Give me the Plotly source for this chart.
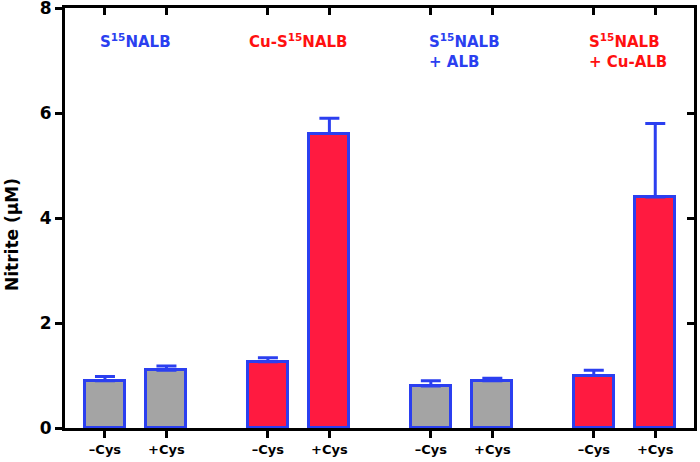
import plotly.graph_objects as go

# ---- data ----
x_pos = [0, 1, 2.65, 3.65, 5.3, 6.3, 7.95, 8.95]
tick_labels = ["\u2013Cys", "+Cys", "\u2013Cys", "+Cys", "\u2013Cys", "+Cys", "\u2013Cys", "+Cys"]
nitrite = [0.90, 1.10, 1.26, 5.61, 0.80, 0.90, 1.00, 4.40]
err_up = [0.08, 0.08, 0.08, 0.29, 0.10, 0.05, 0.10, 1.40]
bar_kind = ["grey", "grey", "red", "red", "grey", "grey", "red", "red"]
y_ticks = [0, 2, 4, 6, 8]
y_title = "Nitrite (\u03bcM)"
group_labels = ["S<sup>15</sup>NALB", "Cu-S<sup>15</sup>NALB",
                "S<sup>15</sup>NALB<br>+ ALB", "S<sup>15</sup>NALB<br>+ Cu-ALB"]
group_colors = ["#2b3ff0", "#ff1010", "#2b3ff0", "#ff1010"]

FILL = {"grey": "#a4a4a4", "red": "#ff1a40"}
BLUE = "#2b3ff0"
FONT = "DejaVu Sans"

fig = go.Figure()
fig.add_trace(go.Bar(
    x=x_pos, y=nitrite, width=0.65,
    marker=dict(color=[FILL[k] for k in bar_kind], line=dict(color=BLUE, width=3)),
    error_y=dict(type="data", array=err_up, arrayminus=[0]*len(err_up), symmetric=False,
                 color=BLUE, thickness=3, width=10),
    showlegend=False, hoverinfo="skip",
))
# invisible trace on the mirror axes
fig.add_trace(go.Scatter(x=[x_pos[0]], y=[0], xaxis="x2", yaxis="y2",
                         mode="markers", marker=dict(opacity=0), showlegend=False,
                         hoverinfo="skip"))

xr = [-0.65, 9.58]
yr = [0, 8.001]
fig.update_layout(
    width=700, height=462,
    margin=dict(l=65, r=6, t=8, b=34, autoexpand=False),
    plot_bgcolor="white", paper_bgcolor="white",
    font=dict(family=FONT, color="black"),
    xaxis=dict(range=xr, tickvals=x_pos, ticktext=tick_labels, automargin=False,
               showline=True, linecolor="black", linewidth=3,
               ticks="outside", ticklen=7, tickwidth=3, tickcolor="black",
               ticklabeloverflow="allow",
               tickfont=dict(family=FONT, size=13, color="black", weight="bold"),
               showgrid=False, zeroline=False),
    yaxis=dict(range=yr, tickvals=y_ticks, automargin=False,
               showline=True, linecolor="black", linewidth=3,
               ticks="outside", ticklen=7, tickwidth=3, tickcolor="black",
               ticklabeloverflow="allow",
               tickfont=dict(family=FONT, size=17, color="black", weight="bold"),
               showgrid=False, zeroline=False),
    xaxis2=dict(range=xr, overlaying="x", side="top", tickvals=x_pos, automargin=False,
                showticklabels=False, showline=True, linecolor="black", linewidth=3,
                ticks="inside", ticklen=7, tickwidth=3, tickcolor="black",
                showgrid=False, zeroline=False),
    yaxis2=dict(range=yr, overlaying="y", side="right", tickvals=y_ticks[1:4], automargin=False,
                showticklabels=False, showline=True, linecolor="black", linewidth=3,
                ticks="inside", ticklen=7, tickwidth=3, tickcolor="black",
                showgrid=False, zeroline=False),
    bargap=0,
)

# y-axis title
fig.add_annotation(x=-0.084, y=0.46, xref="paper", yref="paper", text=y_title,
                   showarrow=False, textangle=-90, xanchor="center", yanchor="middle",
                   font=dict(family=FONT, size=17, color="black", weight="bold"))

ann_x = [0.49, 3.14, 5.24, 7.84]
ann_anchor = ["center", "center", "left", "left"]
for txt, col, ax, anc in zip(group_labels, group_colors, ann_x, ann_anchor):
    fig.add_annotation(x=ax, y=7.6, xref="x", yref="y", text=txt, showarrow=False,
                       xanchor=anc, yanchor="top", align="left",
                       font=dict(family=FONT, size=15, color=col, weight="bold"))

fig.write_html("out.html", config={"displayModeBar": False},
               post_script="document.body.style.margin='0';document.body.style.overflow='hidden';")
